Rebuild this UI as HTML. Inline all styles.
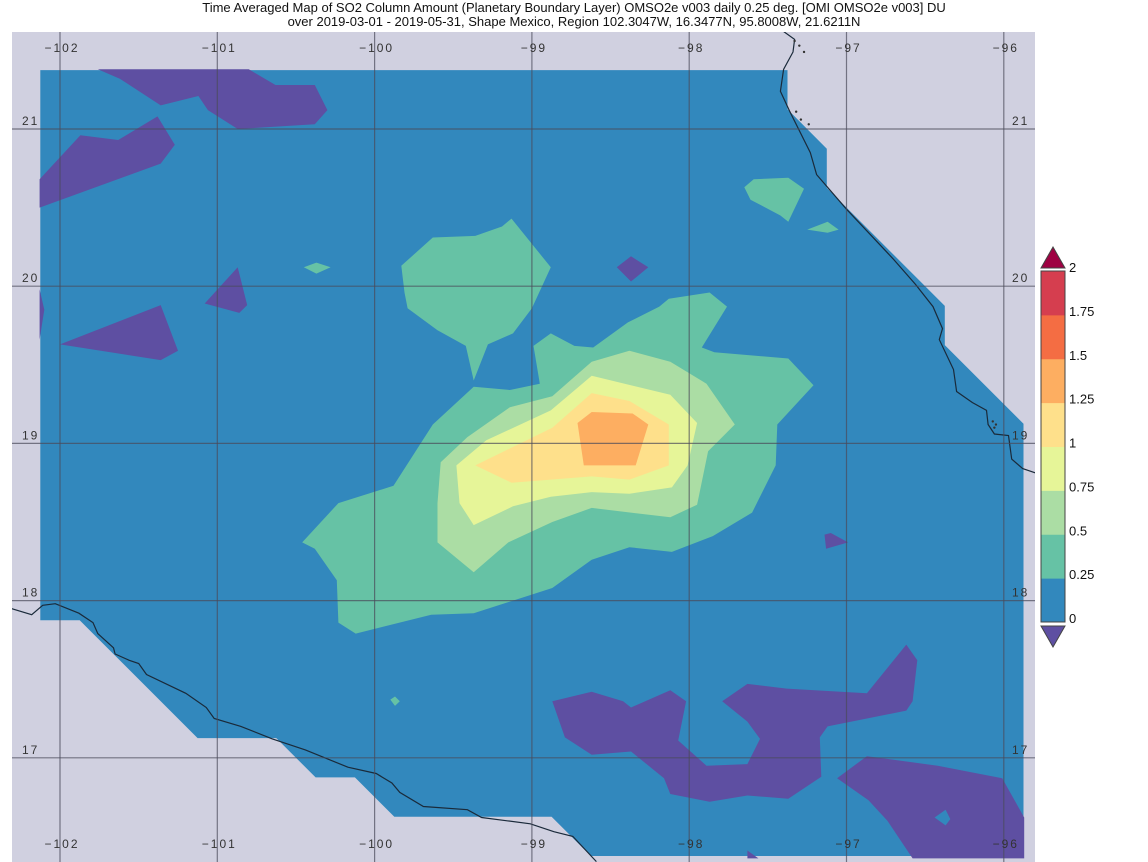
<!DOCTYPE html>
<html><head><meta charset="utf-8"><style>
html,body{margin:0;padding:0;background:#fff;}
svg{display:block;font-family:"Liberation Sans",sans-serif;}
</style></head><body>
<svg id="map" width="1148" height="862" viewBox="0 0 1148 862" xmlns="http://www.w3.org/2000/svg">
<text x="574" y="12" font-size="13" text-anchor="middle" fill="#111">Time Averaged Map of SO2 Column Amount (Planetary Boundary Layer) OMSO2e v003 daily 0.25 deg. [OMI OMSO2e v003] DU</text>
<text x="574" y="26" font-size="13" text-anchor="middle" fill="#111">over 2019-03-01 - 2019-05-31, Shape Mexico, Region 102.3047W, 16.3477N, 95.8008W, 21.6211N</text>
<defs><clipPath id="mapclip"><rect x="12" y="32" width="1023" height="830"/></clipPath></defs>
<rect x="12" y="32" width="1023" height="830" fill="#d0d0e0"/>
<g id="layers" clip-path="url(#mapclip)"></g>
<g id="grid" clip-path="url(#mapclip)"></g>
<g id="labels"></g>
<g id="colorbar"></g>
</svg>
<script>
// ---- data (lon/lat) ----
const levelColors = ["#5e4fa2","#3288bd","#66c2a5","#abdda4","#e6f598","#fee08b","#fdae61","#f46d43","#d53e4f","#9e0142"];
const cbTicks = ["0","0.25","0.5","0.75","1","1.25","1.5","1.75","2"];
const lonTicks = [-102,-101,-100,-99,-98,-97,-96];
const latTicks = [17,18,19,20,21];
const domain = [[-102.125,21.375],[-97.375,21.375],[-97.375,21.125],[-97.125,20.875],[-97.125,20.625],[-96.375,19.875],[-96.375,19.625],[-95.875,19.125],[-95.875,16.375],[-98.625,16.375],[-98.875,16.625],[-99.875,16.625],[-100.125,16.875],[-100.375,16.875],[-100.625,17.125],[-101.125,17.125],[-101.875,17.875],[-102.125,17.875]];
const belowZero = [
 [[-101.76,21.38],[-101.62,21.32],[-101.36,21.15],[-101.12,21.21],[-101.06,21.12],[-100.87,21.0],[-100.38,21.03],[-100.30,21.12],[-100.38,21.28],[-100.63,21.28],[-100.80,21.38]],
 [[-102.13,20.68],[-101.87,20.96],[-101.63,20.93],[-101.38,21.08],[-101.27,20.90],[-101.36,20.78],[-102.13,20.50]],
 [[-101.08,19.89],[-100.87,20.12],[-100.81,19.88],[-100.86,19.83]],
 [[-102.0,19.63],[-101.36,19.88],[-101.25,19.59],[-101.36,19.53]],
 [[-102.13,19.98],[-102.10,19.85],[-102.13,19.66]],
 [[-98.46,20.12],[-98.37,20.19],[-98.26,20.12],[-98.37,20.03]],
 [[-97.14,18.42],[-97.10,18.43],[-96.99,18.37],[-97.13,18.33]],
 [[-98.87,17.36],[-98.62,17.42],[-98.42,17.36],[-98.37,17.32],[-98.12,17.43],[-98.02,17.36],[-98.07,17.11],[-97.89,16.95],[-97.63,16.96],[-97.55,17.12],[-97.63,17.23],[-97.79,17.36],[-97.63,17.47],[-97.38,17.44],[-96.87,17.41],[-96.62,17.72],[-96.55,17.62],[-96.58,17.36],[-96.62,17.30],[-97.12,17.20],[-97.17,17.13],[-97.16,16.88],[-97.37,16.74],[-97.63,16.76],[-97.87,16.72],[-98.12,16.77],[-98.16,16.87],[-98.37,17.04],[-98.62,17.02],[-98.79,17.13]],
 [[-97.06,16.87],[-96.87,17.01],[-96.42,16.95],[-96.01,16.87],[-95.87,16.62],[-95.87,16.36],[-96.58,16.36],[-96.74,16.60],[-96.86,16.73]],
 [[-97.63,16.41],[-97.56,16.36],[-97.63,16.36]]
];
const holeZero = [[[-96.44,16.62],[-96.37,16.67],[-96.34,16.61],[-96.37,16.57]]];
const level025 = [
 [[-99.63,20.31],[-99.36,20.32],[-99.19,20.38],[-99.13,20.43],[-98.88,20.12],[-99.00,19.86],[-99.12,19.70],[-99.28,19.63],[-99.37,19.40],[-99.42,19.62],[-99.60,19.72],[-99.79,19.86],[-99.81,19.96],[-99.83,20.13]],
 [[-100.45,20.12],[-100.37,20.15],[-100.28,20.12],[-100.37,20.08]],
 [[-100.46,18.37],[-100.23,18.62],[-99.88,18.73],[-99.63,19.12],[-99.37,19.36],[-99.14,19.34],[-98.95,19.38],[-98.99,19.62],[-98.88,19.70],[-98.73,19.62],[-98.61,19.61],[-98.39,19.77],[-98.19,19.87],[-98.13,19.92],[-97.87,19.96],[-97.76,19.87],[-97.92,19.61],[-97.84,19.58],[-97.37,19.54],[-97.21,19.37],[-97.44,19.12],[-97.45,18.86],[-97.60,18.56],[-97.85,18.41],[-98.11,18.31],[-98.38,18.34],[-98.62,18.26],[-98.87,18.08],[-99.37,17.92],[-99.64,17.91],[-100.12,17.79],[-100.23,17.86],[-100.24,18.13],[-100.38,18.33]],
 [[-97.65,20.63],[-97.59,20.68],[-97.37,20.69],[-97.27,20.62],[-97.37,20.41],[-97.42,20.45],[-97.61,20.55]],
 [[-97.25,20.36],[-97.12,20.41],[-97.05,20.36],[-97.12,20.34]],
 [[-99.90,17.37],[-99.87,17.39],[-99.84,17.36],[-99.87,17.33]]
];
const level050 = [[[-99.37,18.18],[-99.60,18.37],[-99.60,18.62],[-99.58,18.88],[-99.41,19.04],[-99.14,19.23],[-98.87,19.30],[-98.62,19.52],[-98.38,19.59],[-98.12,19.52],[-97.89,19.38],[-97.71,19.12],[-97.88,18.95],[-97.95,18.61],[-98.12,18.53],[-98.62,18.59],[-98.87,18.50],[-99.15,18.37]]];
const level075 = [[[-99.37,18.48],[-99.46,18.62],[-99.48,18.86],[-99.29,19.02],[-98.88,19.21],[-98.62,19.43],[-98.12,19.31],[-97.95,19.13],[-98.01,18.86],[-98.11,18.72],[-98.38,18.68],[-98.62,18.69],[-98.88,18.66],[-99.12,18.60]]];
const level100 = [[[-99.36,18.86],[-98.87,19.10],[-98.62,19.32],[-98.38,19.27],[-98.13,19.12],[-98.13,18.86],[-98.38,18.77],[-98.62,18.79],[-98.88,18.77],[-99.13,18.75]]];
const level125 = [[[-98.71,19.13],[-98.62,19.20],[-98.36,19.19],[-98.26,19.12],[-98.34,18.86],[-98.67,18.86]]];
const coastWest = [[-102.31,17.95],[-102.18,17.91],[-102.11,17.97],[-102.03,17.98],[-101.88,17.92],[-101.79,17.86],[-101.76,17.79],[-101.66,17.70],[-101.65,17.66],[-101.56,17.62],[-101.50,17.60],[-101.45,17.53],[-101.20,17.41],[-101.07,17.32],[-101.02,17.25],[-100.85,17.20],[-100.65,17.12],[-100.44,17.05],[-100.17,16.94],[-99.99,16.90],[-99.89,16.84],[-99.84,16.78],[-99.69,16.69],[-99.41,16.67],[-99.32,16.62],[-99.01,16.58],[-98.86,16.53],[-98.74,16.50],[-98.59,16.34]];
const coastEast = [[-97.40,21.62],[-97.33,21.57],[-97.34,21.49],[-97.40,21.38],[-97.42,21.24],[-97.36,21.11],[-97.23,20.85],[-97.19,20.71],[-97.00,20.49],[-96.70,20.17],[-96.56,20.01],[-96.45,19.87],[-96.39,19.73],[-96.41,19.66],[-96.32,19.47],[-96.30,19.33],[-96.20,19.26],[-96.11,19.21],[-96.10,19.12],[-96.06,19.06],[-95.97,19.05],[-95.95,18.90],[-95.88,18.84],[-95.79,18.81]];
const islands = [[-97.33,21.56],[-97.30,21.53],[-97.27,21.49],[-97.32,21.11],[-97.29,21.06],[-97.24,21.03],[-96.07,19.14],[-96.05,19.12],[-96.06,19.10]];

// ---- axes ----
const X0=60, XS=157.3, Y0=129, YS=157.2;
function xOf(lon){return X0+(lon+102)*XS;}
function yOf(lat){return Y0+(21-lat)*YS;}
function pts(poly){return poly.map(p=>xOf(p[0]).toFixed(1)+","+yOf(p[1]).toFixed(1)).join(" ");}
const NS="http://www.w3.org/2000/svg";
function mk(tag,attrs,parent){const e=document.createElementNS(NS,tag);for(const k in attrs)e.setAttribute(k,attrs[k]);parent.appendChild(e);return e;}

const layers=document.getElementById('layers');
let dom=mk('polygon',{points:pts(domain),fill:levelColors[1]},layers);


function drawLevel(list,color,name){
  list.forEach(poly=>{
    const e=mk('polygon',{points:pts(poly),fill:color},layers);
    
    
  });
}
drawLevel(belowZero,levelColors[0],'contour-below-0');
drawLevel(holeZero,levelColors[1],'contour-0-0.25');
drawLevel(level025,levelColors[2],'contour-0.25-0.5');
drawLevel(level050,levelColors[3],'contour-0.5-0.75');
drawLevel(level075,levelColors[4],'contour-0.75-1');
drawLevel(level100,levelColors[5],'contour-1-1.25');
drawLevel(level125,levelColors[6],'contour-1.25-1.5');
[coastWest,coastEast].forEach(c=>{
  const e=mk('polyline',{points:pts(c),fill:'none',stroke:'#1a2a3a','stroke-width':1.2},layers);
  
  
});
islands.forEach(p=>{
  const e=mk('circle',{cx:xOf(p[0]),cy:yOf(p[1]),r:1.2,fill:'#333'},layers);
  
  
});

// grid + labels
const grid=document.getElementById('grid'), labels=document.getElementById('labels');
lonTicks.forEach(l=>{
  const x=xOf(l);
  const g=mk('line',{x1:x,x2:x,y1:32,y2:862,stroke:'#4a4a5a','stroke-opacity':0.7,'stroke-width':1.2},grid);
  
  
  const lab="\u2212"+Math.abs(l);
  [52,848].forEach(y=>{
    const t=mk('text',{x:x+2,y:y,'font-size':12,'text-anchor':'middle','letter-spacing':'2',fill:'#333'},labels);
    t.textContent=lab;
    
    
  });
});
latTicks.forEach(l=>{
  const y=yOf(l);
  const g=mk('line',{x1:12,x2:1035,y1:y,y2:y,stroke:'#4a4a5a','stroke-opacity':0.7,'stroke-width':1.2},grid);
  
  
  [[22,'start'],[1012,'start']].forEach(([x,a])=>{
    const t=mk('text',{x:x,y:y-4,'font-size':12,'text-anchor':a,'letter-spacing':'2',fill:'#333'},labels);
    t.textContent=String(l);
    
    
  });
});

// colorbar
const cb=document.getElementById('colorbar');
const cbX=1041, cbW=24, cbTop=271, cbBot=622, n=8, bh=(cbBot-cbTop)/n;
for(let i=0;i<n;i++){
  const r=mk('rect',{x:cbX,y:cbBot-(i+1)*bh,width:cbW,height:bh+0.5,fill:levelColors[i+1]},cb);
  
  
}
mk('rect',{x:cbX,y:cbTop,width:cbW,height:cbBot-cbTop,fill:'none',stroke:'#444','stroke-width':1},cb);
const up=mk('polygon',{points:`${cbX},${cbTop-3} ${cbX+cbW},${cbTop-3} ${cbX+cbW/2},${cbTop-24}`,fill:levelColors[9],stroke:'#444'},cb);


const dn=mk('polygon',{points:`${cbX},${cbBot+4} ${cbX+cbW},${cbBot+4} ${cbX+cbW/2},${cbBot+25}`,fill:levelColors[0],stroke:'#444'},cb);


cbTicks.forEach((lab,i)=>{
  const y=cbBot-i*bh;
  const t=mk('text',{x:1069,y:y+1,'font-size':13,fill:'#111'},cb);
  t.textContent=lab;
  
  
});
</script>
</body></html>
